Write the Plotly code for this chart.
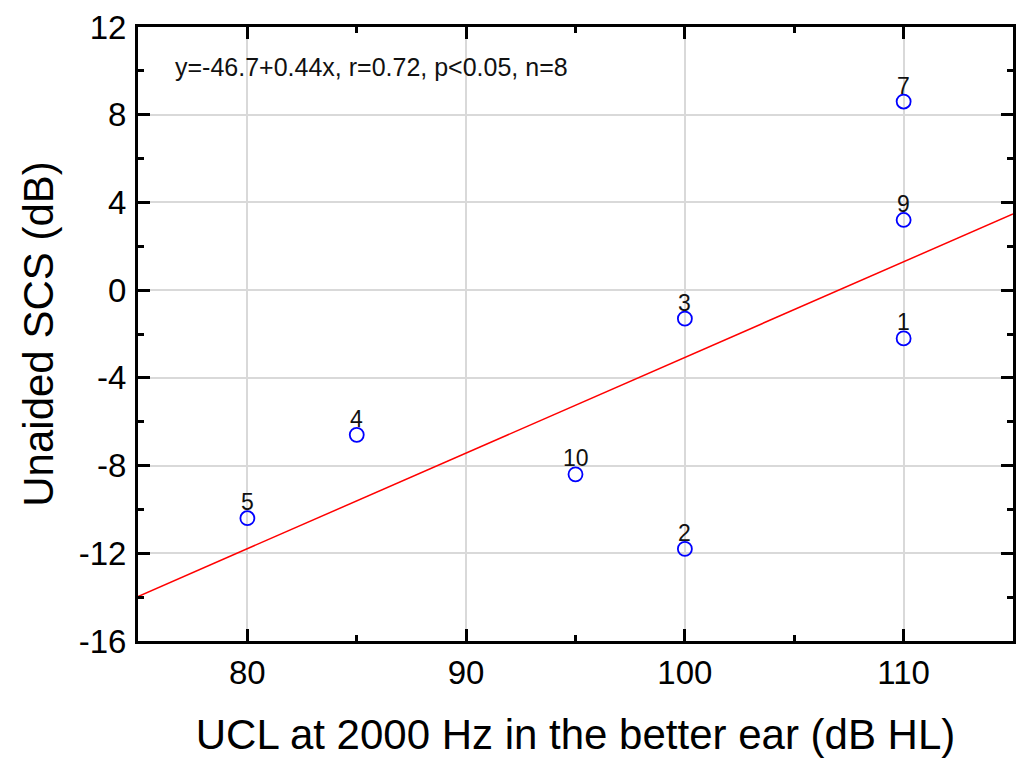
import numpy as np
import plotly.graph_objects as go

ucl = [110, 100, 100, 85, 80, 110, 110, 95]
scs = [-2.2, -11.8, -1.3, -6.6, -10.4, 8.6, 3.2, -8.4]
labels = ["1", "2", "3", "4", "5", "7", "9", "10"]
x_range = [75, 115]
y_range = [-16, 12]
x_tickvals = [80, 90, 100, 110]
x_ticktext = ["80", "90", "100", "110"]
y_tickvals = [-16, -12, -8, -4, 0, 4, 8, 12]
y_ticktext = ["-16", "-12", "-8", "-4", "0", "4", "8", "12"]
equation_text = "y=-46.7+0.44x, r=0.72, p<0.05, n=8"

slope, intercept = np.polyfit(ucl, scs, 1)
fit_x = np.array(x_range, dtype=float)
fit_y = intercept + slope * fit_x

FONT = "Liberation Sans, Arial, sans-serif"

fig = go.Figure()
fig.add_trace(go.Scatter(
    x=fit_x, y=fit_y, mode="lines",
    line=dict(color="#ff0000", width=1.5), showlegend=False, hoverinfo="skip"))
fig.add_trace(go.Scatter(
    x=ucl, y=scs, mode="markers",
    marker=dict(symbol="circle-open", size=14, color="#0000ff", line=dict(width=1.8, color="#0000ff")),
    showlegend=False))

for xv, yv, lab in zip(ucl, scs, labels):
    fig.add_annotation(x=xv, y=yv, text=lab, showarrow=False, xanchor="center", yanchor="bottom",
                       yshift=1, font=dict(family=FONT, size=23, color="#111111"))

fig.add_annotation(
    x=0.04, y=0.935, xref="paper", yref="paper", xanchor="left", yanchor="middle",
    text=equation_text, showarrow=False, font=dict(family=FONT, size=25, color="#111111"))

axis_common = dict(
    showline=True, linecolor="black", linewidth=3, mirror="ticks",
    ticks="inside", ticklen=12, tickwidth=3, tickcolor="black",
    showgrid=True, gridcolor="#d9d9d9", gridwidth=1.5, zeroline=False,
    tickfont=dict(family=FONT, size=33, color="black"),
    tickmode="array", automargin=False,
)

fig.update_xaxes(
    range=x_range, tickvals=x_tickvals, ticktext=x_ticktext, ticklabelstandoff=0,
    minor=dict(dtick=5, tick0=75, ticks="inside", ticklen=6, tickwidth=3, tickcolor="black", showgrid=False),
    title=dict(text="UCL at 2000 Hz in the better ear (dB HL)", font=dict(family=FONT, size=42, color="black"), standoff=34),
    **axis_common)
fig.update_yaxes(
    range=y_range, tickvals=y_tickvals, ticktext=y_ticktext, ticklabelstandoff=2,
    minor=dict(dtick=2, tick0=-16, ticks="inside", ticklen=6, tickwidth=3, tickcolor="black", showgrid=False),
    title=dict(text="Unaided SCS (dB)", font=dict(family=FONT, size=42, color="black"), standoff=12),
    **axis_common)

fig.update_layout(
    width=1016, height=758,
    margin=dict(l=138, r=3, t=27, b=117),
    paper_bgcolor="white", plot_bgcolor="white",
    font=dict(family=FONT),
)

fig.write_html(
    "out.html",
    config={"displayModeBar": False},
    post_script="document.body.style.margin='0';document.body.style.padding='0';"
                "document.body.style.overflow='hidden';document.documentElement.style.overflow='hidden';",
)
